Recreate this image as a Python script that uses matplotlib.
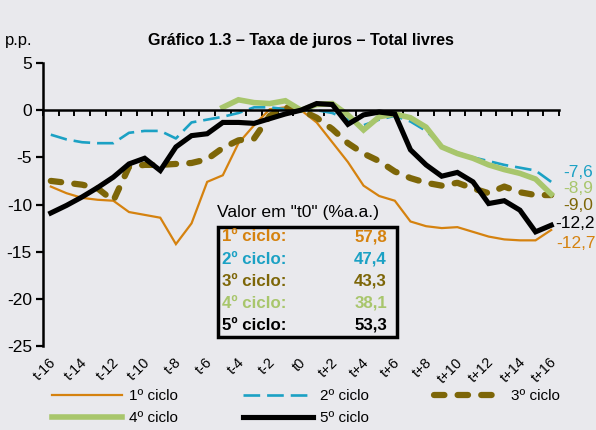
import matplotlib
matplotlib.use("Agg")
import matplotlib.pyplot as plt
from matplotlib.patches import Rectangle
import numpy as np

plt.rcParams['font.family'] = ['Liberation Sans', 'DejaVu Sans']
plt.rcParams['lines.scale_dashes'] = False

labels = [f"t{k}" if k < 0 else ("t0" if k == 0 else f"t+{k}") for k in range(-16, 17)]

ciclo1 = [-8.1, -8.8, -9.3, -9.5, -9.6, -10.8, -11.1, -11.4, -14.2, -12.0, -7.6, -6.9, -3.5, -1.6, 0.1, 0.3, 0.0,
          -1.3, -3.4, -5.5, -8.0, -9.1, -9.6, -11.8, -12.3, -12.5, -12.4, -12.9, -13.4, -13.7, -13.8, -13.8, -12.7]
ciclo2 = [-2.6, -3.1, -3.4, -3.5, -3.5, -2.4, -2.2, -2.2, -3.0, -1.3, -1.0, -0.7, -0.3, 0.3, 0.3, 0.1, 0.0,
          0.0, -0.3, -1.0, -1.6, -1.0, -0.6, -1.2, -2.2, -3.8, -4.5, -5.0, -5.4, -5.8, -6.1, -6.4, -7.6]
ciclo3 = [-7.5, -7.7, -7.9, -8.3, -9.6, -6.0, -5.8, -5.8, -5.7, -5.6, -5.2, -4.0, -3.2, -3.0, -0.6, 0.3, 0.0,
          -0.8, -2.0, -3.5, -4.6, -5.4, -6.5, -7.2, -7.7, -8.0, -7.7, -8.3, -8.8, -8.1, -8.7, -9.0, -9.0]
ciclo4 = [None] * 11 + [0.3, 1.1, 0.8, 0.7, 1.0, 0.0,
          0.6, 0.7, -0.5, -2.1, -0.7, -0.4, -0.8, -1.8, -3.9, -4.6, -5.1, -5.8, -6.3, -6.7, -7.3, -8.9]
ciclo5 = [-10.9, -10.1, -9.2, -8.2, -7.1, -5.7, -5.1, -6.4, -3.9, -2.7, -2.5, -1.3, -1.3, -1.4, -0.9, -0.4, 0.0,
          0.7, 0.6, -1.5, -0.5, -0.2, -0.4, -4.2, -5.8, -7.0, -6.6, -7.6, -9.9, -9.6, -10.6, -12.9, -12.2]

series_names = ["1º ciclo", "2º ciclo", "3º ciclo", "4º ciclo", "5º ciclo"]
end_labels = ["-12,7", "-7,6", "-9,0", "-8,9", "-12,2"]
t0_values = ["57,8", "47,4", "43,3", "38,1", "53,3"]

C_OR = '#D5820F'
C_BL = '#1BA1C4'
C_OL = '#7D6608'
C_GR = '#A8C66C'
C_BK = '#000000'
BG = '#E9E9ED'

fig = plt.figure(figsize=(5.96, 4.30), dpi=100, facecolor=BG)
ax = fig.add_axes([43/596, 1-346/430, (559-43)/596, (346-63)/430])
ax.set_facecolor(BG)

x = np.arange(len(labels))
def arr(v):
    return np.array([np.nan if a is None else a for a in v], dtype=float)

l1, = ax.plot(x, arr(ciclo1), color=C_OR, lw=1.6, solid_joinstyle='miter')
l2, = ax.plot(x, arr(ciclo2), color=C_BL, lw=1.9, dashes=(12, 5))
l3, = ax.plot(x, arr(ciclo3), color=C_OL, lw=4.5, dashes=(7.5, 9.5), dash_capstyle='round')
l4, = ax.plot(x, arr(ciclo4), color=C_GR, lw=4.0, solid_joinstyle='miter')
l5, = ax.plot(x, arr(ciclo5), color=C_BK, lw=3.7, solid_joinstyle='miter')

ax.set_xlim(-0.5, len(labels) - 0.5)
ax.set_ylim(-25, 5)
ax.set_yticks([5, 0, -5, -10, -15, -20, -25])
ax.set_yticklabels(['5', '0', '-5', '-10', '-15', '-20', '-25'], fontsize=12.5)
ax.tick_params(axis='y', direction='out', length=5, width=1.6, pad=3)

for s in ['top', 'right']:
    ax.spines[s].set_visible(False)
ax.spines['left'].set_linewidth(1.8)
ax.spines['bottom'].set_position(('data', 0))
ax.spines['bottom'].set_linewidth(1.8)
ax.set_xticks(np.arange(-0.5, len(labels), 1.0))
ax.set_xticklabels([])
ax.tick_params(axis='x', direction='out', length=4, width=1.4)

for i, lab in enumerate(labels):
    if i % 2 == 0:
        ax.text(i + 0.2, -26.5, lab, rotation=45, rotation_mode='anchor',
                ha='right', va='center', fontsize=10.5)

# end labels
end_y = [-14.1, -6.6, -10.1, -8.3, -12.0]
end_c = [C_OR, C_BL, C_OL, C_GR, C_BK]
end_dx = [0.3, 0.8, 0.8, 0.8, 0.25]
for lab, yy, c, dx in zip(end_labels, end_y, end_c, end_dx):
    ax.text(32 + dx, yy, lab, color=c, fontsize=12.5, ha='left', va='center', clip_on=False)

# title and unit
fig.text(0.505, 1 - 40/430, "Gráfico 1.3 – Taxa de juros – Total livres", ha='center', va='center',
         fontsize=11.6, fontweight='bold')
fig.text(5/596, 1 - 40/430, "p.p.", ha='left', va='center', fontsize=12)

# inset box
fig.text(217/596, 1 - 213/430, 'Valor em "t0" (%a.a.)', ha='left', va='center', fontsize=12.6)
rect = Rectangle((218/596, 1 - 337/430), (397-218)/596, (337-227)/430, transform=fig.transFigure,
                 facecolor=BG, edgecolor='black', lw=2.5, zorder=5)
fig.patches.append(rect)
row_y = [237, 259, 281, 303, 325]
row_c = [C_OR, C_BL, C_OL, C_GR, C_BK]
for name, val, yy, c in zip(series_names, t0_values, row_y, row_c):
    fig.text(222/596, 1 - yy/430, name + ":", ha='left', va='center', fontsize=12.2,
             fontweight='bold', color=c, zorder=6)
    fig.text(387/596, 1 - yy/430, val, ha='right', va='center', fontsize=12.2,
             fontweight='bold', color=c, zorder=6)

# legend
handles = [l1, l4, l2, l5, l3]
names = [series_names[0], series_names[3], series_names[1], series_names[4], series_names[2]]
leg = fig.legend(handles, names, ncol=3, loc='upper left', bbox_to_anchor=(52/596, 1 - 389/430),
                 frameon=False, fontsize=11, handlelength=4.6, handletextpad=0.45,
                 columnspacing=4.25, labelspacing=0.55, borderaxespad=0, borderpad=0)

fig.savefig('out.png', dpi=100, facecolor=BG)
